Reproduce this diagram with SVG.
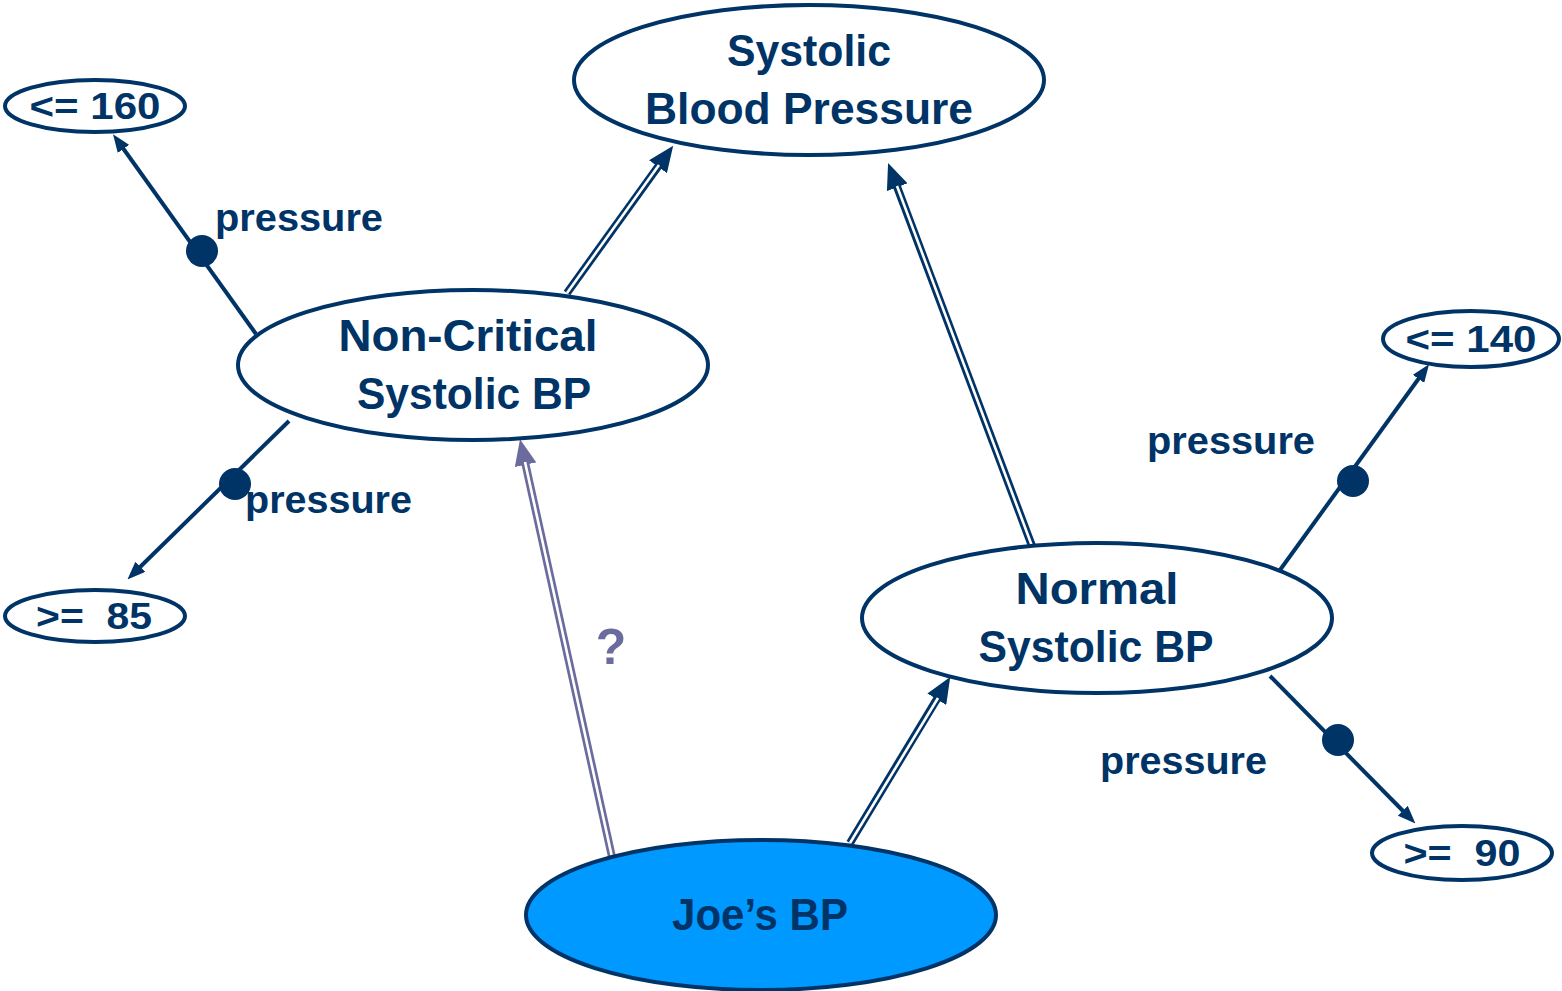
<svg xmlns="http://www.w3.org/2000/svg" width="1562" height="991" viewBox="0 0 1562 991">
<style>
.node{fill:#fff;stroke:#003366;stroke-width:4}
.joe{fill:#0099FF;stroke:#003366;stroke-width:4}
.t{font-family:"Liberation Sans",Arial,sans-serif;font-weight:bold;fill:#003366;text-anchor:middle;white-space:pre}
.big{font-size:44px}
.small{font-size:36px}
.lab{font-family:"Liberation Sans",Arial,sans-serif;font-weight:bold;fill:#003366;font-size:38px}
.dbl{fill:none;stroke:#003366;stroke-width:8}
.dblp{fill:none;stroke:#6B6B9E;stroke-width:8}
.inner{fill:none;stroke:#fff;stroke-width:2.6}
.sgl{fill:none;stroke:#003366;stroke-width:4}
.dot{fill:#003366}
</style>
<defs>
<marker id="ah" viewBox="0 0 26 22" refX="12" refY="11" markerWidth="26" markerHeight="22" markerUnits="userSpaceOnUse" orient="auto"><path d="M0,0 L26,11 L0,22 z" fill="#003366"/></marker>
<marker id="ahp" viewBox="0 0 26 22" refX="12" refY="11" markerWidth="26" markerHeight="22" markerUnits="userSpaceOnUse" orient="auto"><path d="M0,0 L26,11 L0,22 z" fill="#6B6B9E"/></marker>
<marker id="as" viewBox="0 0 18 14" refX="6" refY="7" markerWidth="18" markerHeight="14" markerUnits="userSpaceOnUse" orient="auto"><path d="M0,0 L18,7 L0,14 z" fill="#003366"/></marker>
</defs>
<g id="connectors">
<line class="dbl" x1="567" y1="293" x2="665" y2="157" marker-end="url(#ah)"/>
<line class="inner" x1="567" y1="293" x2="659" y2="165"/>
<line class="dbl" x1="1032" y1="546" x2="893" y2="176" marker-end="url(#ah)"/>
<line class="inner" x1="1032" y1="546" x2="897" y2="186"/>
<line class="dbl" x1="850" y1="843" x2="943" y2="689" marker-end="url(#ah)"/>
<line class="inner" x1="850" y1="843" x2="938" y2="698"/>
<line class="dblp" x1="612" y1="857" x2="523" y2="453" marker-end="url(#ahp)"/>
<line class="inner" x1="612" y1="857" x2="525" y2="462"/>
<line class="sgl" x1="256" y1="334" x2="120" y2="144" marker-end="url(#as)"/>
<circle class="dot" cx="202" cy="251" r="16"/>
<line class="sgl" x1="289" y1="421" x2="136" y2="571" marker-end="url(#as)"/>
<circle class="dot" cx="235" cy="484" r="16"/>
<line class="sgl" x1="1280" y1="570" x2="1422" y2="374" marker-end="url(#as)"/>
<circle class="dot" cx="1353" cy="481" r="16"/>
<line class="sgl" x1="1270" y1="676" x2="1407" y2="815" marker-end="url(#as)"/>
<circle class="dot" cx="1338" cy="740" r="16"/>
<text class="lab" x="215" y="231" textLength="168" lengthAdjust="spacingAndGlyphs">pressure</text>
<text class="lab" x="245" y="513" textLength="167" lengthAdjust="spacingAndGlyphs">pressure</text>
<text class="lab" x="1147" y="454" textLength="168" lengthAdjust="spacingAndGlyphs">pressure</text>
<text class="lab" x="1100" y="774" textLength="167" lengthAdjust="spacingAndGlyphs">pressure</text>
<text x="611" y="664" font-family="Liberation Sans,Arial,sans-serif" font-weight="bold" font-size="50" fill="#6B6B9E" text-anchor="middle">?</text>
</g>
<g id="systolic">
<ellipse class="node" cx="809" cy="80" rx="235" ry="75"/>
<text class="t big" x="809" y="66" textLength="164" lengthAdjust="spacingAndGlyphs">Systolic</text>
<text class="t big" x="809" y="124" textLength="328" lengthAdjust="spacingAndGlyphs">Blood Pressure</text>
</g>
<g id="noncritical">
<ellipse class="node" cx="473" cy="365" rx="235" ry="75"/>
<text class="t big" x="468" y="351" textLength="259" lengthAdjust="spacingAndGlyphs">Non-Critical</text>
<text class="t big" x="474" y="409" textLength="234" lengthAdjust="spacingAndGlyphs">Systolic BP</text>
</g>
<g id="normal">
<ellipse class="node" cx="1097" cy="618" rx="235" ry="75"/>
<text class="t big" x="1097" y="604" textLength="163" lengthAdjust="spacingAndGlyphs">Normal</text>
<text class="t big" x="1096" y="662" textLength="235" lengthAdjust="spacingAndGlyphs">Systolic BP</text>
</g>
<g id="joe">
<ellipse class="joe" cx="761" cy="915" rx="235" ry="75"/>
<text class="t big" x="760" y="930" textLength="176" lengthAdjust="spacingAndGlyphs">Joe’s BP</text>
</g>
<g id="le160">
<ellipse class="node" cx="95" cy="106" rx="90" ry="26"/>
<text class="t small" x="95" y="119" textLength="131" lengthAdjust="spacingAndGlyphs">&lt;= 160</text>
</g>
<g id="ge85">
<ellipse class="node" cx="95" cy="616" rx="90" ry="26"/>
<text class="t small" x="94" y="629" textLength="116" lengthAdjust="spacingAndGlyphs">&gt;=  85</text>
</g>
<g id="le140">
<ellipse class="node" cx="1471" cy="339" rx="88" ry="28"/>
<text class="t small" x="1471" y="352" textLength="131" lengthAdjust="spacingAndGlyphs">&lt;= 140</text>
</g>
<g id="ge90">
<ellipse class="node" cx="1462" cy="853" rx="90" ry="27"/>
<text class="t small" x="1462" y="866" textLength="117" lengthAdjust="spacingAndGlyphs">&gt;=  90</text>
</g>
</svg>
